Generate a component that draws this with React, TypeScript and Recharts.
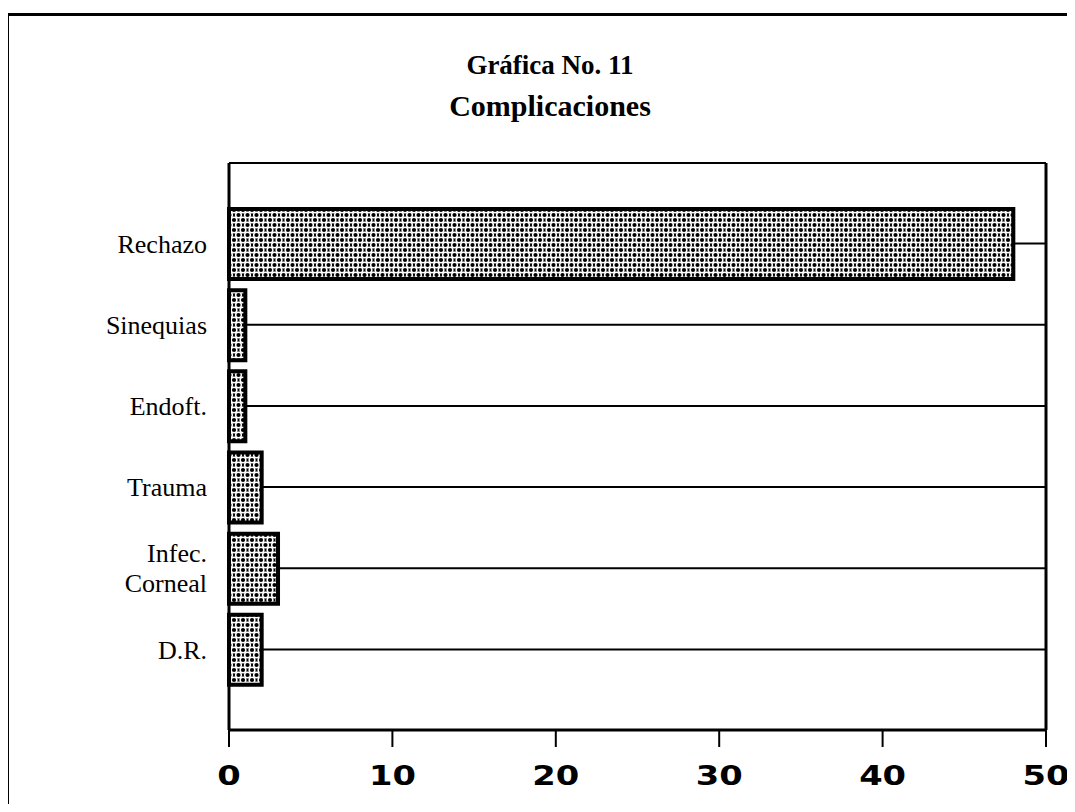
import { Bar, BarChart, CartesianGrid, XAxis, YAxis } from 'recharts';

const categories = ['Rechazo', 'Sinequias', 'Endoft.', 'Trauma', 'Infec.\nCorneal', 'D.R.'];
const counts = [48, 1, 1, 2, 3, 2];
const xTicks = [0, 10, 20, 30, 40, 50];

const data = categories.map((name, i) => ({ name, value: counts[i] }));

function CategoryTick({ x, y, payload }: any) {
  const lines = String(payload.value).split('\n');
  const lh = 30;
  const start = y - ((lines.length - 1) * lh) / 2;
  return (
    <text x={x} y={start} textAnchor="end" fontFamily="'Liberation Serif', serif" fontSize={26} fill="#000">
      {lines.map((l, i) => (
        <tspan key={i} x={x} y={start + i * lh} dy="0.35em">{l}</tspan>
      ))}
    </text>
  );
}

function NumberTick({ x, y, payload }: any) {
  // wide, heavy digits like the scanned original
  return (
    <g transform={`translate(${x},${y + 36}) scale(1.25,1)`}>
      <text x={0} y={0} textAnchor="middle" fontFamily="'DejaVu Sans', sans-serif" fontWeight={700} fontSize={27} fill="#000">
        {payload.value}
      </text>
    </g>
  );
}

export default function App() {
  return (
    <div style={{ position: 'relative', margin: -8, width: 1075, height: 812, background: '#fff', overflow: 'hidden' }}>
      <div style={{ position: 'absolute', left: 6, top: 13, width: 1200, height: 900, border: '3px solid #000' }} />
      <div style={{ position: 'absolute', left: 0, width: 1100, top: 48, textAlign: 'center', fontFamily: "'Liberation Serif', serif", fontWeight: 700, color: '#000' }}>
        <div style={{ fontSize: 27, lineHeight: '34px' }}>Gráfica No. 11</div>
        <div style={{ fontSize: 30, lineHeight: '38px', marginTop: 5 }}>Complicaciones</div>
      </div>
      <div style={{ position: 'absolute', left: 0, top: 0 }}>
        <BarChart
          width={1075}
          height={812}
          data={data}
          layout="vertical"
          margin={{ top: 163, right: 28, bottom: 22, left: 0 }}
          barSize={70}
        >
          <defs>
            <pattern id="halftone" patternUnits="userSpaceOnUse" width={9} height={10}>
              <rect width={9} height={10} fill="#000" />
              <circle cx={0} cy={0} r={3.6} fill="#fff" />
              <circle cx={9} cy={0} r={3.6} fill="#fff" />
              <circle cx={0} cy={10} r={3.6} fill="#fff" />
              <circle cx={9} cy={10} r={3.6} fill="#fff" />
              <circle cx={4.5} cy={5} r={3.6} fill="#fff" />
              <circle cx={0} cy={0} r={2.1} fill="#000" />
              <circle cx={9} cy={0} r={2.1} fill="#000" />
              <circle cx={0} cy={10} r={2.1} fill="#000" />
              <circle cx={9} cy={10} r={2.1} fill="#000" />
              <circle cx={4.5} cy={5} r={2.1} fill="#000" />
            </pattern>
          </defs>
          <CartesianGrid vertical={false} stroke="#000" strokeWidth={2} />
          <XAxis
            type="number"
            domain={[0, 50]}
            ticks={xTicks}
            interval={0}
            height={60}
            axisLine={{ stroke: '#000', strokeWidth: 3 }}
            tickLine={{ stroke: '#000', strokeWidth: 2 }}
            tickSize={17}
            tick={<NumberTick />}
          />
          <XAxis
            xAxisId="top"
            orientation="top"
            type="number"
            domain={[0, 50]}
            height={0}
            tick={false}
            tickLine={false}
            axisLine={{ stroke: '#000', strokeWidth: 3 }}
          />
          <YAxis
            type="category"
            dataKey="name"
            width={229}
            padding={{ top: 40, bottom: 40 }}
            axisLine={{ stroke: '#000', strokeWidth: 3 }}
            tickLine={false}
            tickMargin={16}
            tick={<CategoryTick />}
          />
          <YAxis
            yAxisId="right"
            orientation="right"
            type="category"
            dataKey="name"
            width={1}
            tick={false}
            tickLine={false}
            axisLine={{ stroke: '#000', strokeWidth: 3 }}
          />
          <Bar dataKey="value" fill="url(#halftone)" stroke="#000" strokeWidth={4} isAnimationActive={false} />
        </BarChart>
      </div>
    </div>
  );
}
